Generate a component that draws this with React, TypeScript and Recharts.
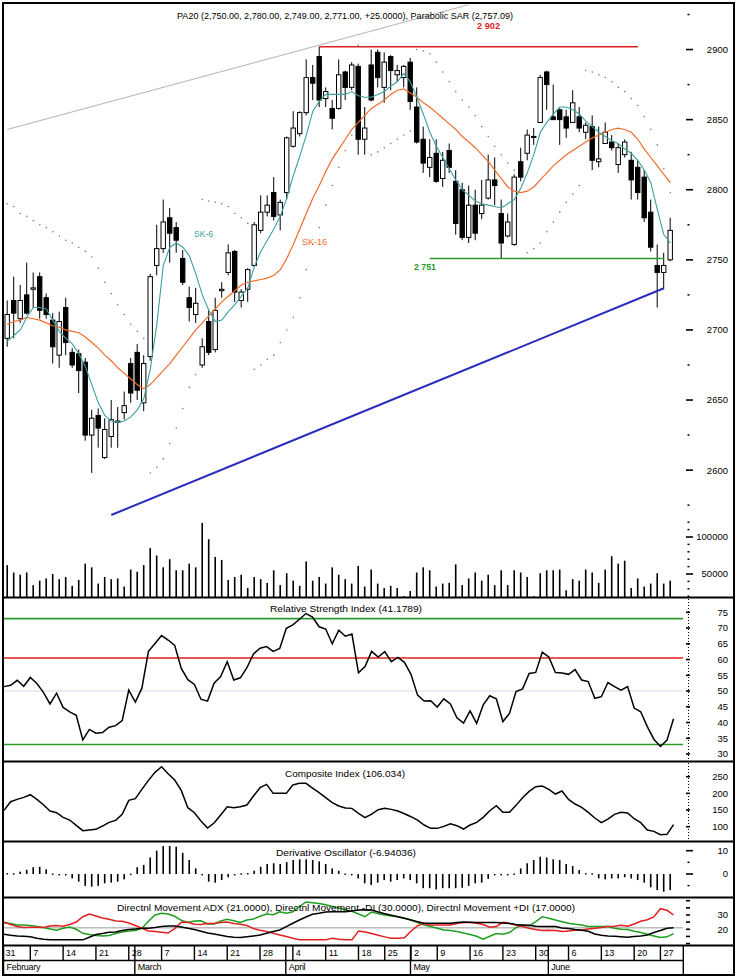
import { Bar, ComposedChart, Line, ReferenceLine, XAxis, YAxis } from "recharts";

const dates = [
  "2/1", "2/2", "2/3", "2/4", "2/7", "2/8", "2/9", "2/10", "2/11", "2/14", "2/15", "2/16", "2/17", "2/18", "2/21", "2/22", "2/23", "2/24", "2/25", "2/28",
  "3/1", "3/2", "3/3", "3/4", "3/7", "3/8", "3/9", "3/10", "3/11", "3/14", "3/15", "3/16", "3/17", "3/18", "3/21", "3/22", "3/23", "3/24", "3/25", "3/28", "3/29", "3/30", "3/31",
  "4/1", "4/4", "4/5", "4/6", "4/7", "4/8", "4/11", "4/12", "4/13", "4/14", "4/15", "4/18", "4/19", "4/20", "4/21", "4/25", "4/26", "4/27", "4/28",
  "5/2", "5/3", "5/4", "5/5", "5/9", "5/10", "5/11", "5/12", "5/13", "5/16", "5/17", "5/18", "5/19", "5/20", "5/23", "5/24", "5/25", "5/26", "5/27", "5/30", "5/31",
  "6/1", "6/2", "6/3", "6/6", "6/7", "6/8", "6/9", "6/10", "6/13", "6/14", "6/15", "6/16", "6/17", "6/20", "6/21", "6/22", "6/23", "6/27", "6/28", "6/29",
];
const weekStarts = ["2/7", "2/14", "2/21", "2/28", "3/7", "3/14", "3/21", "3/28", "4/4", "4/11", "4/18", "4/25", "5/2", "5/9", "5/16", "5/23", "5/30", "6/6", "6/13", "6/20", "6/27"];
const monthStarts = ["2/1", "3/1", "4/1", "5/2", "6/1"];
const monthNames = ["February", "March", "April", "May", "June"];

const opens = [
  2694, 2721, 2708, 2725, 2729, 2738, 2723, 2707, 2682, 2716, 2684, 2683, 2677, 2625, 2639, 2609, 2624, 2634, 2641, 2676,
  2684, 2648, 2681, 2746, 2758, 2780, 2773, 2751, 2723, 2711, 2675, 2706, 2686, 2728, 2741, 2756, 2721, 2729, 2746, 2771,
  2784, 2798, 2782, 2798, 2831, 2840, 2855, 2880, 2895, 2865, 2858, 2858, 2884, 2873, 2888, 2836, 2889, 2898, 2873, 2895,
  2882, 2880, 2891, 2859, 2836, 2816, 2826, 2808, 2828, 2806, 2800, 2766, 2789, 2783, 2794, 2807, 2783, 2767, 2761, 2820,
  2826, 2838, 2848, 2884, 2852, 2857, 2852, 2848, 2852, 2841, 2845, 2820, 2833, 2834, 2818, 2825, 2821, 2816, 2809, 2784,
  2746, 2741, 2750,
];
const highs = [
  2721, 2738, 2732, 2748, 2741, 2741, 2726, 2712, 2713, 2723, 2687, 2686, 2680, 2643, 2644, 2637, 2650, 2645, 2656, 2680,
  2690, 2682, 2740, 2775, 2793, 2787, 2777, 2757, 2731, 2730, 2694, 2714, 2723, 2734, 2761, 2757, 2729, 2744, 2777, 2796,
  2796, 2809, 2793, 2838, 2856, 2856, 2893, 2889, 2902, 2873, 2864, 2893, 2885, 2891, 2890, 2859, 2900, 2900, 2898, 2896,
  2889, 2889, 2894, 2873, 2845, 2836, 2836, 2827, 2833, 2814, 2805, 2803, 2800, 2807, 2825, 2823, 2793, 2783, 2811, 2830,
  2843, 2844, 2882, 2885, 2875, 2858, 2857, 2871, 2859, 2848, 2853, 2845, 2848, 2839, 2833, 2836, 2827, 2821, 2814, 2793,
  2761, 2755, 2780,
];
const lows = [
  2688, 2694, 2705, 2711, 2716, 2708, 2708, 2676, 2673, 2682, 2673, 2655, 2621, 2598, 2616, 2608, 2616, 2616, 2636, 2648,
  2650, 2642, 2678, 2739, 2755, 2748, 2755, 2732, 2706, 2705, 2673, 2682, 2684, 2723, 2739, 2720, 2716, 2720, 2745, 2769,
  2781, 2778, 2771, 2793, 2830, 2838, 2853, 2864, 2859, 2859, 2843, 2857, 2864, 2871, 2825, 2825, 2863, 2873, 2862, 2871,
  2877, 2873, 2857, 2833, 2812, 2809, 2805, 2802, 2812, 2768, 2764, 2762, 2764, 2779, 2793, 2789, 2751, 2766, 2760, 2806,
  2821, 2832, 2848, 2857, 2850, 2832, 2837, 2848, 2841, 2836, 2814, 2816, 2833, 2828, 2812, 2823, 2793, 2793, 2777, 2756,
  2716, 2729, 2749,
];
const closes = [
  2711, 2712, 2721, 2712, 2730, 2714, 2711, 2688, 2706, 2691, 2675, 2671, 2625, 2637, 2630, 2629, 2636, 2635, 2646, 2655,
  2657, 2676, 2738, 2758, 2777, 2769, 2764, 2734, 2716, 2719, 2688, 2684, 2714, 2729, 2755, 2727, 2727, 2743, 2775, 2784,
  2789, 2781, 2791, 2837, 2844, 2855, 2880, 2876, 2864, 2870, 2851, 2882, 2873, 2889, 2836, 2844, 2864, 2880, 2891, 2885,
  2885, 2888, 2863, 2834, 2819, 2823, 2806, 2821, 2816, 2776, 2766, 2789, 2769, 2789, 2807, 2803, 2762, 2777, 2809, 2809,
  2839, 2838, 2880, 2875, 2850, 2850, 2844, 2862, 2844, 2846, 2821, 2822, 2841, 2830, 2830, 2834, 2807, 2798, 2780, 2759,
  2741, 2746, 2771,
];
// volume in thousands
const volumeK = [
  62, 52, 49, 52, 35, 41, 44, 50, 43, 46, 34, 42, 64, 59, 37, 46, 43, 44, 33, 56,
  53, 62, 85, 75, 59, 70, 55, 55, 64, 59, 119, 97, 73, 69, 42, 46, 49, 31, 46, 43,
  38, 55, 35, 51, 41, 34, 67, 41, 46, 37, 59, 49, 43, 37, 61, 33, 56, 37, 31, 34,
  31, 20, 27, 52, 59, 55, 33, 37, 38, 63, 35, 44, 52, 41, 49, 35, 55, 35, 55, 52,
  46, 20, 51, 55, 55, 56, 28, 43, 41, 56, 52, 38, 56, 74, 64, 68, 31, 44, 33, 37,
  51, 37, 41,
];
const ma6 = [
  2692, 2696, 2700, 2709, 2716, 2716, 2715, 2707, 2699, 2694, 2690, 2683, 2674, 2661, 2648, 2639, 2635, 2634, 2635, 2638,
  2643, 2651, 2672, 2704, 2746, 2759, 2762, 2759, 2753, 2740, 2725, 2714, 2706, 2707, 2713, 2718, 2724, 2730, 2745, 2756,
  2764, 2772, 2781, 2794, 2810, 2824, 2839, 2856, 2863, 2868, 2868, 2868, 2868, 2870, 2867, 2866, 2866, 2868, 2870, 2874,
  2877, 2883, 2877, 2866, 2854, 2841, 2831, 2823, 2815, 2807, 2800, 2796, 2792, 2790, 2789, 2788, 2787, 2790, 2793, 2801,
  2812, 2825, 2841, 2848, 2854, 2859, 2859, 2857, 2854, 2849, 2845, 2841, 2838, 2835, 2833, 2829, 2826, 2821, 2814, 2805,
  2786, 2768, 2762,
];
const ma16 = [
  2704, 2706, 2707, 2709, 2708, 2707, 2705, 2703, 2702, 2700, 2699, 2698, 2695, 2691, 2687, 2682, 2678, 2673, 2669, 2665,
  2661, 2658, 2661, 2666, 2671, 2676, 2682, 2688, 2694, 2700, 2705, 2710, 2715, 2720, 2724, 2728, 2732, 2734, 2735, 2736,
  2737, 2739, 2743, 2751, 2761, 2772, 2783, 2794, 2803, 2813, 2822, 2829, 2836, 2843, 2848, 2853, 2858, 2861, 2864, 2868,
  2871, 2872, 2869, 2866, 2862, 2859, 2855, 2851, 2847, 2843, 2838, 2834, 2830, 2825, 2820, 2814, 2808, 2802, 2799, 2798,
  2799, 2802, 2807, 2812, 2817, 2821, 2825, 2828, 2831, 2834, 2837, 2839, 2841, 2843, 2844, 2843, 2841, 2836, 2829, 2823,
  2817, 2811, 2805,
];
const sar = [
  2790, 2788, 2783, 2781, 2778, 2775, 2773, 2770, 2767, 2764, 2762, 2759, 2756, 2752, 2744, 2734, 2726, 2718, 2711, 2704,
  2699, 2694, 2598, 2602, 2608, 2619, 2630, 2644, 2659, 2668, 2793, 2792, 2791, 2790, 2788, 2783, 2780, 2776, 2672, 2675,
  2679, 2682, 2691, 2700, 2709, 2723, 2743, 2761, 2773, 2789, 2803, 2816, 2828, 2839, 2903, 2902, 2825, 2827, 2830, 2833,
  2836, 2839, 2842, 2900, 2899, 2897, 2891, 2884, 2877, 2870, 2864, 2859, 2853, 2845, 2838, 2831, 2825, 2819, 2814, 2751,
  2755, 2758, 2762, 2770, 2777, 2784, 2791, 2797, 2803, 2885, 2884, 2882, 2880, 2877, 2873, 2870, 2865, 2860, 2852, 2843,
  2832, 2815, 2798,
];
const rsi = [
  51.4, 51.8, 53.4, 51.5, 54.3, 52.4, 49.6, 45.9, 49.3, 44.8, 43.4, 42.3, 34.5, 37.8, 36.6, 36.8, 38.5, 39.0, 40.6, 50.3,
  46.5, 50.9, 62.6, 65.1, 67.6, 66.2, 64.5, 57.2, 53.6, 52.1, 47.4, 46.8, 52.5, 54.6, 59.3, 53.5, 54.2, 57.4, 61.8, 63.6,
  64.1, 62.6, 63.5, 69.9, 71.0, 72.8, 74.6, 73.5, 70.4, 69.7, 65.0, 69.3, 67.4, 68.1, 55.8, 57.8, 62.6, 60.8, 62.5, 59.3,
  60.7, 59.1, 55.3, 48.7, 46.8, 46.9, 44.9, 47.5, 45.9, 41.5, 39.8, 43.7, 39.7, 45.6, 48.5, 47.5, 40.3, 42.9, 49.8, 50.7,
  55.6, 55.9, 62.3, 60.8, 55.9, 55.7, 55.3, 56.8, 53.5, 53.0, 47.7, 48.2, 52.7, 51.4, 50.3, 51.4, 44.6, 43.4, 38.7, 34.7,
  32.4, 34.4, 41.2,
];
const composite = [
  149, 175, 182, 188, 196, 182, 166, 147, 142, 128, 120, 104, 88, 90, 92, 102, 113, 119, 137, 179,
  184, 212, 239, 263, 280, 259, 240, 209, 157, 142, 117, 96, 111, 135, 160, 157, 160, 165, 192, 217,
  227, 200, 200, 200, 225, 230, 230, 216, 202, 187, 172, 162, 156, 155, 140, 127, 138, 151, 155, 152,
  147, 139, 130, 120, 105, 95, 95, 101, 109, 103, 93, 105, 113, 128, 148, 163, 143, 143, 164, 187,
  206, 220, 222, 212, 198, 207, 182, 168, 158, 143, 126, 112, 123, 137, 143, 141, 124, 112, 90, 86,
  76, 77, 106,
];
const derivOsc = [
  0.4, 0.3, 1.0, 1.8, 2.9, 3.1, 2.0, 0.2, -0.3, -0.6, -1.9, -3.3, -5.1, -5.4, -5.1, -4.0, -3.7, -3.3, -2.3, 0.1,
  2.9, 3.9, 7.1, 10.0, 12.0, 12.0, 11.7, 9.1, 6.0, 2.4, -0.3, -3.3, -3.7, -2.6, -1.4, -0.5, 0.3, 0.4, 1.4, 3.1,
  4.3, 4.6, 4.3, 5.1, 6.0, 6.3, 6.3, 6.0, 5.4, 4.3, 2.4, 1.4, 0.2, -0.6, -1.9, -4.0, -4.7, -3.7, -2.6, -3.3,
  -2.6, -1.9, -2.6, -4.0, -6.1, -6.1, -6.6, -6.1, -6.1, -6.1, -5.9, -5.1, -4.0, -3.7, -2.1, -0.3, -0.3, -0.2, 0.2, 2.4,
  4.6, 6.0, 7.4, 7.1, 6.3, 6.0, 4.3, 3.4, 1.7, 0.4, 0.3, -1.9, -2.3, -1.9, -1.9, -1.4, -1.9, -2.6, -3.7, -5.7,
  -6.9, -7.6, -6.9,
];
const adx = [
  16.5, 15.8, 15.3, 15.1, 14.7, 13.7, 13.0, 12.6, 12.6, 12.6, 12.6, 12.6, 12.6, 14.4, 16.3, 17.0, 17.9, 18.1, 19.1, 19.8,
  20.2, 20.7, 20.7, 21.2, 21.9, 22.3, 22.3, 21.6, 20.7, 19.8, 18.6, 17.4, 16.7, 15.8, 14.9, 14.4, 14.2, 14.7, 15.3, 16.0,
  17.2, 18.4, 19.5, 21.9, 24.2, 26.5, 28.6, 30.5, 31.2, 32.1, 32.3, 32.3, 32.3, 32.8, 33.5, 33.7, 33.5, 32.1, 30.9, 29.8,
  28.8, 27.7, 26.5, 25.3, 24.2, 24.2, 24.2, 24.2, 24.2, 24.7, 25.1, 24.9, 24.7, 24.7, 24.7, 24.7, 24.4, 24.0, 23.3, 23.0,
  22.8, 22.1, 21.9, 21.9, 21.9, 20.9, 20.5, 19.8, 19.3, 18.6, 16.7, 15.8, 15.3, 15.1, 14.7, 14.4, 14.9, 15.3, 16.0, 17.7,
  19.1, 20.7, 21.0,
];
const minusDI = [
  25.1, 23.3, 21.9, 21.2, 21.4, 21.4, 21.2, 22.3, 22.6, 22.1, 23.3, 25.1, 28.8, 30.7, 29.3, 27.9, 27.0, 25.8, 25.6, 24.4,
  22.6, 20.7, 18.8, 18.4, 17.9, 17.4, 20.5, 24.9, 24.9, 23.5, 23.3, 24.0, 24.0, 24.7, 25.1, 24.0, 23.5, 22.6, 20.5, 19.3,
  18.4, 17.2, 16.0, 14.9, 13.7, 12.6, 12.6, 12.6, 12.6, 12.6, 13.7, 13.0, 12.6, 12.6, 18.8, 18.1, 17.0, 15.8, 14.7, 13.7,
  13.7, 14.0, 18.6, 22.6, 24.0, 23.0, 23.0, 23.0, 23.0, 24.0, 24.7, 24.7, 24.2, 23.3, 21.4, 21.9, 24.9, 24.2, 22.8, 21.9,
  20.7, 19.8, 19.1, 19.3, 19.1, 18.4, 18.8, 19.3, 19.5, 20.2, 20.7, 21.2, 21.9, 22.1, 22.8, 22.1, 23.7, 25.6, 26.7, 28.6,
  34.4, 33.3, 30.0,
];
const plusDI = [
  24.4, 24.0, 23.0, 23.0, 22.6, 21.9, 21.2, 20.2, 19.3, 20.7, 21.6, 20.0, 17.2, 16.3, 15.6, 15.3, 15.6, 17.0, 18.1, 18.8,
  19.1, 20.7, 25.6, 30.0, 31.2, 30.7, 29.1, 26.3, 24.7, 25.8, 26.0, 23.7, 23.7, 25.8, 27.0, 26.0, 24.7, 26.5, 27.2, 29.1,
  30.7, 30.2, 32.3, 31.2, 32.3, 35.8, 39.1, 38.6, 38.1, 37.2, 36.0, 34.9, 33.7, 32.6, 30.7, 28.8, 32.1, 30.9, 30.0, 29.3,
  28.8, 27.7, 26.5, 24.7, 23.0, 21.9, 20.7, 19.5, 19.1, 18.4, 17.4, 16.3, 15.1, 13.0, 15.1, 17.0, 16.5, 17.7, 21.2, 22.8,
  22.3, 25.3, 28.8, 27.7, 26.5, 25.3, 24.2, 23.5, 23.0, 21.9, 21.9, 21.9, 21.9, 20.7, 20.0, 19.8, 18.6, 17.7, 16.5, 15.3,
  14.2, 14.7, 17.0,
];

const priceTicks = [2575, 2600, 2625, 2650, 2675, 2700, 2725, 2750, 2775, 2800, 2825, 2850, 2875, 2900, 2925];
const priceMajors = [2600, 2650, 2700, 2750, 2800, 2850, 2900];
const volTicks = [20000, 30000, 40000, 50000, 60000, 70000, 80000, 90000, 100000, 110000, 120000];
const volMajors = [50000, 100000];
const rsiTicks = [30, 35, 40, 45, 50, 55, 60, 65, 70, 75];
const ciTicks = [100, 150, 200, 250];
const doTicks = [-5, 0, 5, 10];
const doMajors = [0, 10];
const dmiTicks = [10, 15, 20, 25, 30, 35, 40];
const dmiLabels = [20, 30];

const rows = dates.map((d, i) => ({
  d,
  o: opens[i],
  h: highs[i],
  l: lows[i],
  c: closes[i],
  hl: [lows[i], highs[i]],
  vol: volumeK[i] * 1000,
  ma6: ma6[i],
  ma16: ma16[i],
  sar: sar[i],
  rsi: rsi[i],
  ci: composite[i],
  dosc: derivOsc[i],
  adx: adx[i],
  mdi: minusDI[i],
  pdi: plusDI[i],
}));

const W = 733;
const PLOT_R = 681;
const FONT = "'Liberation Sans', Arial, sans-serif";
const XPAD = { left: 0, right: 9.45 };
const MARGIN = { top: 0, right: 0, bottom: 0, left: 2.05 };
const DATE_TOP = 47;

function AxisTick(props: any) {
  const { y, payload, majors, labels, len } = props;
  const v = payload.value;
  if (!majors.includes(v)) {
    return <rect x={PLOT_R + 4.5} y={y - 0.75} width={2} height={1.5} fill="#000" />;
  }
  return (
    <g>
      <line x1={PLOT_R + 3} x2={PLOT_R + 3 + len} y1={y} y2={y} stroke="#000" strokeWidth={1.6} />
      {labels.includes(v) && (
        <text x={726} y={y + 3.4} textAnchor="end" fontSize={9.5} fontFamily={FONT} fill="#000">
          {v}
        </text>
      )}
    </g>
  );
}

function Candle(props: any) {
  const { x, y, width, height, payload } = props;
  const top = Math.min(y, y + height);
  const span = Math.abs(height);
  const { o, h, l, c } = payload;
  const k = h === l ? 0 : span / (h - l);
  const py = (v: number) => top + (h - v) * k;
  const cx = x + width / 2;
  const bTop = py(Math.max(o, c));
  const bBot = py(Math.min(o, c));
  return (
    <g>
      <line x1={cx} x2={cx} y1={top} y2={top + span} stroke="#000" strokeWidth={1} />
      <rect
        x={cx - 2.2}
        y={bTop}
        width={4.4}
        height={Math.max(bBot - bTop, 1)}
        fill={c >= o ? "#fff" : "#000"}
        stroke="#000"
        strokeWidth={1}
      />
    </g>
  );
}

function Stick(props: any) {
  const { x, y, width, height } = props;
  const top = Math.min(y, y + height);
  return <rect x={x + width / 2 - 0.8} y={top} width={1.6} height={Math.max(Math.abs(height), 1.4)} fill="#000" />;
}

function DateTick(props: any) {
  const { x, payload, index } = props;
  const d = payload.value as string;
  const m = monthStarts.indexOf(d);
  return (
    <g fontFamily={FONT} fill="#000">
      {index === 0 && (
        <text x={3.5} y={DATE_TOP + 11} fontSize={9}>
          31
        </text>
      )}
      {weekStarts.includes(d) && (
        <g>
          <line x1={x} x2={x} y1={DATE_TOP} y2={DATE_TOP + 15} stroke="#000" strokeWidth={1.4} />
          <text x={x + 3} y={DATE_TOP + 11} fontSize={9}>
            {d.split("/")[1]}
          </text>
        </g>
      )}
      {m >= 0 && (
        <g>
          <line x1={x - 0.5} x2={x - 0.5} y1={DATE_TOP} y2={DATE_TOP + 30} stroke="#000" strokeWidth={1.4} />
          <text x={x + 2.5} y={DATE_TOP + 25} fontSize={9} letterSpacing={-0.3}>
            {monthNames[m]}
          </text>
        </g>
      )}
    </g>
  );
}

function Title(props: any) {
  const { x, y, len, color = "#000", size = 9.5, weight = 400, children } = props;
  return (
    <text
      x={x}
      y={y}
      textLength={len}
      lengthAdjust="spacingAndGlyphs"
      fontSize={size}
      fontWeight={weight}
      fontFamily={FONT}
      fill={color}
    >
      {children}
    </text>
  );
}

const panel = (top: number): React.CSSProperties => ({ position: "absolute", left: 2, top });

export default function App() {
  return (
    <div style={{ position: "absolute", left: 0, top: 0, width: 740, height: 978, background: "#fff", overflow: "hidden" }}>
      {/* price */}
      <div style={panel(3)}>
        <ComposedChart width={W} height={594} data={rows} margin={MARGIN}>
          <XAxis dataKey="d" hide padding={XPAD} />
          <YAxis
            orientation="right"
            width={52}
            domain={[2509.5, 2933.2]}
            allowDataOverflow
            ticks={priceTicks}
            interval={0}
            axisLine={false}
            tickLine={false}
            tick={<AxisTick majors={priceMajors} labels={priceMajors} len={7} />}
          />
          <Bar dataKey="hl" shape={<Candle />} isAnimationActive={false} />
          <Line dataKey="ma16" stroke="#f26b2a" strokeWidth={1.2} dot={false} activeDot={false} isAnimationActive={false} />
          <Line dataKey="ma6" stroke="#3c9fa0" strokeWidth={1.1} dot={false} activeDot={false} isAnimationActive={false} />
          <Line
            dataKey="sar"
            stroke="none"
            dot={{ r: 0.8, fill: "#777", stroke: "none" }}
            activeDot={false}
            isAnimationActive={false}
          />
          <ReferenceLine segment={[{ x: dates[0], y: 2843 }, { x: dates[71], y: 2932 }]} stroke="#b4b4b4" strokeWidth={1} />
          <ReferenceLine segment={[{ x: dates[48], y: 2902 }, { x: dates[97], y: 2902 }]} stroke="#e01e1e" strokeWidth={1.6} />
          <ReferenceLine segment={[{ x: dates[65], y: 2751 }, { x: dates[101], y: 2751 }]} stroke="#2a9a2a" strokeWidth={1.6} />
          <ReferenceLine segment={[{ x: dates[16], y: 2568 }, { x: dates[101], y: 2729.7 }]} stroke="#2b2bbf" strokeWidth={2} />
        </ComposedChart>
      </div>

      {/* volume */}
      <div style={panel(500)}>
        <ComposedChart width={W} height={97} data={rows} margin={MARGIN}>
          <XAxis
            dataKey="d"
            padding={XPAD}
            height={0}
            mirror
            interval={0}
            axisLine={false}
            tickSize={3}
            tickLine={{ stroke: "#000", strokeWidth: 1 }}
            tick={<g />}
          />
          <YAxis
            orientation="right"
            width={52}
            domain={[18900, 150000]}
            allowDataOverflow
            ticks={volTicks}
            interval={0}
            axisLine={false}
            tickLine={false}
            tick={<AxisTick majors={volMajors} labels={volMajors} len={7} />}
          />
          <Bar dataKey="vol" shape={<Stick />} isAnimationActive={false} />
        </ComposedChart>
      </div>

      {/* RSI */}
      <div style={panel(598)}>
        <ComposedChart width={W} height={163} data={rows} margin={MARGIN}>
          <XAxis dataKey="d" hide padding={XPAD} />
          <YAxis
            orientation="right"
            width={52}
            domain={[27.78, 79.54]}
            allowDataOverflow
            ticks={rsiTicks}
            interval={0}
            axisLine={false}
            tickLine={false}
            tick={<AxisTick majors={rsiTicks} labels={rsiTicks} len={4} />}
          />
          <ReferenceLine y={73} stroke="#2a9a2a" strokeWidth={1.6} />
          <ReferenceLine y={60.5} stroke="#e01e1e" strokeWidth={1.6} />
          <ReferenceLine y={50} stroke="#d4d4e8" strokeWidth={1} />
          <ReferenceLine y={33} stroke="#2a9a2a" strokeWidth={1.6} />
          <Line dataKey="rsi" stroke="#000" strokeWidth={1.5} dot={false} activeDot={false} isAnimationActive={false} />
        </ComposedChart>
      </div>

      {/* Composite index */}
      <div style={panel(762)}>
        <ComposedChart width={W} height={79} data={rows} margin={MARGIN}>
          <XAxis dataKey="d" hide padding={XPAD} />
          <YAxis
            orientation="right"
            width={52}
            domain={[57.1, 294.1]}
            allowDataOverflow
            ticks={ciTicks}
            interval={0}
            axisLine={false}
            tickLine={false}
            tick={<AxisTick majors={ciTicks} labels={ciTicks} len={4} />}
          />
          <Line dataKey="ci" stroke="#000" strokeWidth={1.5} dot={false} activeDot={false} isAnimationActive={false} />
        </ComposedChart>
      </div>

      {/* Derivative oscillator */}
      <div style={panel(842)}>
        <ComposedChart width={W} height={55} data={rows} margin={MARGIN}>
          <XAxis dataKey="d" hide padding={XPAD} />
          <YAxis
            orientation="right"
            width={52}
            domain={[-9.87, 13.73]}
            allowDataOverflow
            ticks={doTicks}
            interval={0}
            axisLine={false}
            tickLine={false}
            tick={<AxisTick majors={doMajors} labels={doMajors} len={7} />}
          />
          <Bar dataKey="dosc" shape={<Stick />} isAnimationActive={false} />
        </ComposedChart>
      </div>

      {/* DMI + date axis */}
      <div style={panel(898)}>
        <ComposedChart width={W} height={77} data={rows} margin={MARGIN}>
          <XAxis
            dataKey="d"
            padding={XPAD}
            height={30}
            interval={0}
            axisLine={false}
            tickLine={false}
            tickSize={0}
            tickMargin={0}
            tick={<DateTick />}
          />
          <YAxis
            orientation="right"
            width={52}
            domain={[9.0, 41.9]}
            allowDataOverflow
            ticks={dmiTicks}
            interval={0}
            axisLine={false}
            tickLine={false}
            tick={<AxisTick majors={dmiTicks} labels={dmiLabels} len={4} />}
          />
          <ReferenceLine y={21} stroke="#999" strokeWidth={1} />
          <Line dataKey="pdi" stroke="#1f9f1f" strokeWidth={1.5} dot={false} activeDot={false} isAnimationActive={false} />
          <Line dataKey="mdi" stroke="#e02020" strokeWidth={1.5} dot={false} activeDot={false} isAnimationActive={false} />
          <Line dataKey="adx" stroke="#000" strokeWidth={1.5} dot={false} activeDot={false} isAnimationActive={false} />
        </ComposedChart>
      </div>

      {/* frame, separators and titles */}
      <svg width={740} height={978} style={{ position: "absolute", left: 0, top: 0, pointerEvents: "none" }}>
        <rect x={3} y={3} width={731} height={972} fill="none" stroke="#000" strokeWidth={2} />
        {[597.5, 761.5, 841.5, 897.5, 945.5].map((y) => (
          <line key={y} x1={3} x2={734} y1={y} y2={y} stroke="#000" strokeWidth={2} />
        ))}
        <line x1={3} x2={683.3} y1={960.5} y2={960.5} stroke="#000" strokeWidth={1.6} />
        <line x1={683.3} x2={683.3} y1={945} y2={975} stroke="#000" strokeWidth={1.4} />
        <line x1={688.5} x2={688.5} y1={599} y2={760} stroke="#000" strokeWidth={1} strokeDasharray="1 2" />
        <line x1={688.5} x2={688.5} y1={763} y2={840} stroke="#000" strokeWidth={1} strokeDasharray="1 2" />

        <Title x={177} y={18.5} len={336} size={9}>
          PA20 (2,750.00, 2,780.00, 2,749.00, 2,771.00, +25.0000), Parabolic SAR (2,757.09)
        </Title>
        <Title x={477} y={29} len={23} size={8.5} color="#e01e1e" weight={700}>
          2 902
        </Title>
        <Title x={414} y={270} len={22} size={9} color="#2a9a2a" weight={700}>
          2 751
        </Title>
        <Title x={194} y={237} len={19} size={9} color="#3c9fa0">
          SK-6
        </Title>
        <Title x={302} y={245} len={25} size={9} color="#f26b2a">
          SK-16
        </Title>
        <Title x={270} y={611.5} len={152}>
          Relative Strength Index (41.1789)
        </Title>
        <Title x={285} y={776.5} len={120}>
          Composite Index (106.034)
        </Title>
        <Title x={276} y={855.5} len={140}>
          Derivative Oscillator (-6.94036)
        </Title>
        <Title x={117} y={911} len={458}>
          Directnl Movement ADX (21.0000), Directnl Movement -DI (30.0000), Directnl Movement +DI (17.0000)
        </Title>
      </svg>
    </div>
  );
}
